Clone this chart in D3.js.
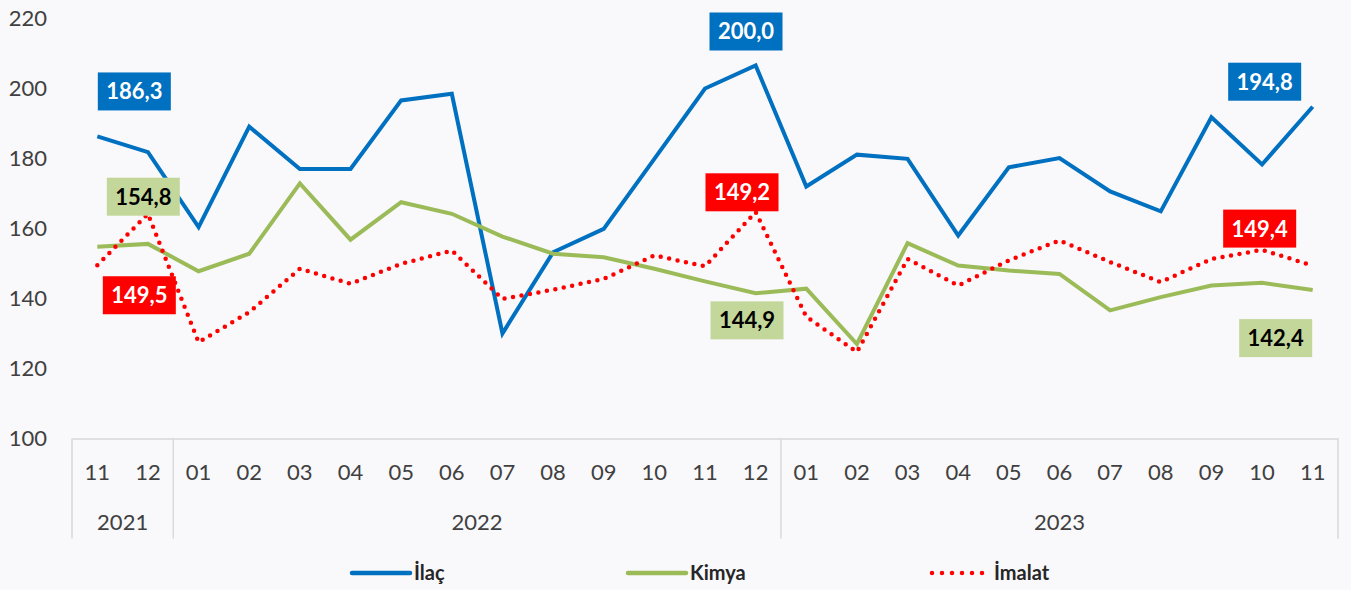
<!DOCTYPE html>
<html>
<head>
<meta charset="utf-8">
<script src="https://cdn.jsdelivr.net/npm/d3@7"></script>
<style>
    body { margin: 0; background: #f9f8fb; }
    svg text { font-family: Lato, "Open Sans", sans-serif; }
</style>
</head>
<body>
<div id="chart"></div>
<script>
// periods (year-month) shown on the axis
var periods = ["2021-11","2021-12","2022-01","2022-02","2022-03","2022-04","2022-05","2022-06",
    "2022-07","2022-08","2022-09","2022-10","2022-11","2022-12","2023-01","2023-02","2023-03",
    "2023-04","2023-05","2023-06","2023-07","2023-08","2023-09","2023-10","2023-11"];

var ilac   = [186.3,181.8,160.4,189.1,177.0,177.0,196.6,198.5,130.0,153.2,159.9,179.9,200.0,
              206.6,172.0,181.1,179.9,158.0,177.5,180.1,170.6,164.9,191.8,178.3,194.8];
var kimya  = [154.8,155.6,147.8,152.8,172.9,156.8,167.5,164.2,157.7,152.8,151.8,148.5,144.9,
              141.5,142.8,127.0,155.8,149.4,148.0,147.0,136.6,140.4,143.7,144.5,142.4];
var imalat = [149.5,164.2,127.5,136.1,148.5,144.2,149.9,153.7,139.9,142.5,145.6,152.3,149.2,
              164.7,134.8,124.7,151.3,143.7,150.9,156.6,150.4,144.7,151.3,153.9,149.4];

var yTicks = [100,120,140,160,180,200,220];
var seriesNames = ["İlaç","Kimya","İmalat"];
var labelIdx = [0,12,24];   // points with value boxes

var width = 1351, height = 590;

var svg = d3.select("#chart").append("svg")
    .attr("width", width)
    .attr("height", height);

var x = d3.scaleBand()
    .domain(d3.range(periods.length))
    .range([72, 1338]);

var y = d3.scaleLinear()
    .domain([100, 220])
    .range([438.5, 18.5]);

var months = periods.map(function(p) { return p.split("-")[1]; });
var years = periods.map(function(p) { return p.split("-")[0]; });

// y axis labels (no line)
svg.append("g").selectAll("text")
    .data(yTicks)
    .enter().append("text")
    .attr("x", 47)
    .attr("y", function(d) { return y(d); })
    .attr("dy", "0.35em")
    .style("text-anchor", "end")
    .style("font-size", "22px")
    .style("fill", "#404040")
    .text(function(d) { return d; });

// x axis - months
var xAxis = d3.axisBottom(x)
    .tickSize(0)
    .tickPadding(26)
    .tickFormat(function(i) { return months[i]; });

var gx = svg.append("g")
    .attr("class", "x axis")
    .attr("transform", "translate(0," + y(100) + ")")
    .call(xAxis);
gx.select(".domain").attr("stroke", "#d9d9d9").attr("stroke-width", 1.5);
gx.selectAll("text")
    .style("font-size", "22px")
    .style("font-family", "Lato, sans-serif")
    .style("fill", "#404040");

// year groups
var yearGroups = [];
years.forEach(function(yr, i) {
    var last = yearGroups[yearGroups.length - 1];
    if (last && last.year === yr) last.end = i;
    else yearGroups.push({year: yr, start: i, end: i});
});

var sepX = [x(0)].concat(yearGroups.map(function(g) { return x(g.end) + x.bandwidth(); }));
svg.append("g").selectAll("line")
    .data(sepX)
    .enter().append("line")
    .attr("x1", function(d) { return d; })
    .attr("x2", function(d) { return d; })
    .attr("y1", y(100))
    .attr("y2", y(100) + 100)
    .attr("stroke", "#d9d9d9")
    .attr("stroke-width", 1.5);

svg.append("g").selectAll("text")
    .data(yearGroups)
    .enter().append("text")
    .attr("x", function(g) { return (x(g.start) + x(g.end) + x.bandwidth()) / 2; })
    .attr("y", y(100) + 84)
    .attr("dy", "0.35em")
    .style("text-anchor", "middle")
    .style("font-size", "22px")
    .style("fill", "#404040")
    .text(function(g) { return g.year; });

// lines
var line = d3.line()
    .x(function(d, i) { return x(i) + x.bandwidth() / 2; })
    .y(function(d) { return y(d); });

var series = [
    {name: seriesNames[0], values: ilac,   color: "#0070c0", dash: null, box: "#0070c0", txt: "#fff",
     off: [[37,-45],[41,-57],[-48,-25]]},
    {name: seriesNames[1], values: kimya,  color: "#9bbb59", dash: null, box: "#c4d79b", txt: "#000",
     off: [[46,-50],[42,39],[-37,48]]},
    {name: seriesNames[2], values: imalat, color: "#ff0000", dash: "0 8.6", box: "#ff0000", txt: "#fff",
     off: [[42,30],[37,-74],[-53,-37]]}
];

svg.append("g").selectAll("path")
    .data(series)
    .enter().append("path")
    .attr("d", function(s) { return line(s.values); })
    .attr("fill", "none")
    .attr("stroke", function(s) { return s.color; })
    .attr("stroke-width", function(s) { return s.dash ? 4.5 : 4; })
    .attr("stroke-dasharray", function(s) { return s.dash; })
    .attr("stroke-linecap", function(s) { return s.dash ? "round" : "butt"; })
    .attr("stroke-linejoin", "miter");

// value boxes
var fmt = function(v) { return d3.format(".1f")(v).replace(".", ","); };
series.forEach(function(s) {
    labelIdx.forEach(function(idx, k) {
        var cx = x(idx) + x.bandwidth() / 2 + s.off[k][0];
        var cy = y(s.values[idx]) + s.off[k][1];
        var g = svg.append("g").attr("transform", "translate(" + cx + "," + cy + ")");
        g.append("rect")
            .attr("x", -36.5).attr("y", -19)
            .attr("width", 73).attr("height", 38)
            .attr("fill", s.box);
        g.append("text")
            .attr("dy", "0.36em")
            .style("text-anchor", "middle")
            .style("font-size", "22px")
            .style("font-weight", "bold")
            .style("fill", s.txt)
            .text(fmt(s.values[idx]));
    });
});

// legend
var legendX = [352, 628, 932];
var legend = svg.append("g").selectAll(".legend")
    .data(series)
    .enter().append("g")
    .attr("class", "legend")
    .attr("transform", function(d, i) { return "translate(" + legendX[i] + ",573)"; });

legend.append("line")
    .attr("x1", 0).attr("x2", 58)
    .attr("stroke", function(d) { return d.color; })
    .attr("stroke-width", 4.5)
    .attr("stroke-dasharray", function(d) { return d.dash ? "0 10" : null; })
    .attr("stroke-linecap", "round");

legend.append("text")
    .attr("x", 62)
    .attr("dy", "0.35em")
    .style("font-size", "20px")
    .style("font-weight", "bold")
    .style("fill", "#262626")
    .text(function(d) { return d.name; });
</script>
</body>
</html>
